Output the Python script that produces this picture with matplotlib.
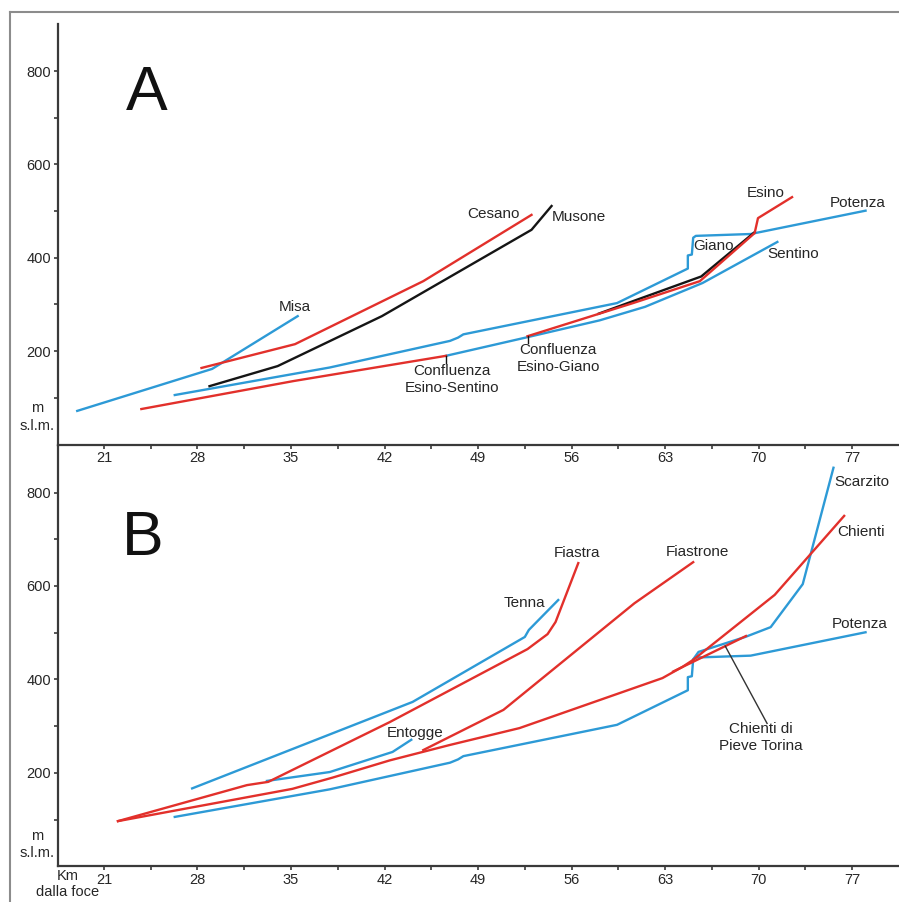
import matplotlib
matplotlib.use("Agg")
import matplotlib.pyplot as plt
import numpy as np
from matplotlib.lines import Line2D
from matplotlib.ticker import FixedLocator

plt.rcParams['font.family'] = ['Liberation Sans', 'DejaVu Sans']

BLUE = '#2d9ad6'
RED = '#e2302b'
BLACK = '#151515'
TEXT = '#262626'
AXIS = '#3a3a3a'

# longitudinal profiles: km from the river mouth, elevation in m a.s.l.
# Potenza appears in both panels
potenza_km = [26.3, 37.9, 46.9, 47.5, 47.9, 59.4, 64.7, 64.7, 65.0, 65.1, 65.3, 69.4, 78.0]
potenza_m = [106, 165, 222, 229, 236, 303, 377, 405, 407, 443, 447, 451, 501]

# panel A
misa_km = [19.0, 29.1, 35.5]
misa_m = [72, 162, 275]
cesano_km = [28.3, 35.3, 44.9, 53.0]
cesano_m = [164, 215, 350, 492]
musone_km = [28.9, 34.0, 41.8, 53.0, 54.5]
musone_m = [125, 168, 275, 460, 511]
esino_low_km = [23.8, 35.2, 46.6]
esino_low_m = [76, 136, 190]
esino_km = [52.7, 60.6, 65.6, 69.7, 69.95, 72.5]
esino_m = [232, 303, 350, 453, 485, 530]
sentino_km = [46.6, 52.7, 58.1, 61.5, 65.8, 71.4]
sentino_m = [190, 230, 266, 295, 346, 434]
giano_km = [58.0, 60.1, 65.7, 69.7]
giano_m = [280, 302, 360, 455]
confluence_km = [46.6, 52.7]
confluence_m = [190, 232]

# panel B
chienti_km = [22.05, 35.1, 38.1, 42.4, 46.9, 52.1, 62.8, 64.3, 65.1, 71.2, 76.4]
chienti_m = [97, 166, 190, 227, 260, 296, 403, 427, 442, 581, 750]
fiastra_km = [22.05, 31.7, 33.3, 42.4, 52.7, 54.2, 54.8, 56.5]
fiastra_m = [97, 174, 181, 309, 465, 497, 523, 649]
fiastrone_km = [44.9, 50.9, 60.7, 65.1]
fiastrone_m = [249, 335, 563, 651]
pieve_km = [63.6, 69.05]
pieve_m = [417, 493]
tenna_km = [27.6, 44.1, 52.5, 52.8, 55.0]
tenna_m = [167, 352, 491, 506, 570]
entogge_km = [33.2, 37.9, 42.6, 44.0]
entogge_m = [183, 202, 245, 271]
scarzito_km = [65.1, 65.5, 69.0, 70.9, 73.3, 75.6]
scarzito_m = [443, 459, 491, 512, 604, 853]

fig = plt.figure(figsize=(8.99, 9.02), dpi=100)
ax_a = fig.add_axes([0.0645, 0.5072, 0.9344, 0.4657])
ax_b = fig.add_axes([0.0645, 0.0394, 0.9344, 0.4664])


def style_axes(ax):
    ax.set_xlim(17.56, 80.43)
    ax.set_ylim(0, 900)
    ax.patch.set_visible(False)
    for side in ('top', 'right'):
        ax.spines[side].set_visible(False)
    for side in ('left', 'bottom'):
        ax.spines[side].set_color(AXIS)
        ax.spines[side].set_linewidth(1.6)
    ax.xaxis.set_major_locator(FixedLocator(np.arange(21, 78, 7)))
    ax.xaxis.set_minor_locator(FixedLocator(np.arange(24.5, 80, 7)))
    ax.yaxis.set_major_locator(FixedLocator([200, 400, 600, 800]))
    ax.yaxis.set_minor_locator(FixedLocator([100, 300, 500, 700]))
    ax.tick_params(which='both', direction='out', length=3, width=1.2,
                   color=AXIS, labelsize=10.5, labelcolor=TEXT, pad=2)


style_axes(ax_a)
style_axes(ax_b)

lw = 1.7

# --- panel A ---
ax_a.plot(potenza_km, potenza_m, color=BLUE, lw=lw)
ax_a.plot(misa_km, misa_m, color=BLUE, lw=lw)
ax_a.plot(sentino_km, sentino_m, color=BLUE, lw=lw)
ax_a.plot(giano_km, giano_m, color=BLACK, lw=lw)
ax_a.plot(esino_low_km, esino_low_m, color=RED, lw=lw)
ax_a.plot(esino_km, esino_m, color=RED, lw=lw)
ax_a.plot(cesano_km, cesano_m, color=RED, lw=lw)
ax_a.plot(musone_km, musone_m, color=BLACK, lw=lw)
for k, m in zip(confluence_km, confluence_m):
    ax_a.plot([k, k], [m, m - 15], color=BLACK, lw=1.0)

labels_a = [
    ('Misa', 35.26, 295, 'center'),
    ('Cesano', 52.14, 494, 'right'),
    ('Musone', 54.53, 488, 'left'),
    ('Esino', 69.13, 539, 'left'),
    ('Potenza', 75.34, 518, 'left'),
    ('Giano', 65.09, 425, 'left'),
    ('Sentino', 70.63, 408, 'left'),
    ('Confluenza\nEsino-Sentino', 47.05, 140, 'center'),
    ('Confluenza\nEsino-Giano', 55.0, 184, 'center'),
]
for txt, x, y, ha in labels_a:
    ax_a.text(x, y, txt, ha=ha, va='center', fontsize=11, color=TEXT,
              linespacing=1.3, multialignment='center')

# --- panel B ---
ax_b.plot(potenza_km, potenza_m, color=BLUE, lw=lw)
ax_b.plot(tenna_km, tenna_m, color=BLUE, lw=lw)
ax_b.plot(entogge_km, entogge_m, color=BLUE, lw=lw)
ax_b.plot(scarzito_km, scarzito_m, color=BLUE, lw=lw)
ax_b.plot(chienti_km, chienti_m, color=RED, lw=lw)
ax_b.plot(fiastra_km, fiastra_m, color=RED, lw=lw)
ax_b.plot(fiastrone_km, fiastrone_m, color=RED, lw=lw)
ax_b.plot(pieve_km, pieve_m, color=RED, lw=lw)

# leader line to the Pieve Torina label
lead_km = 67.5
lead_m = np.interp(lead_km, pieve_km, pieve_m)
ax_b.plot([lead_km, 70.63], [lead_m, 306], color='#333333', lw=1.0)

labels_b = [
    ('Entogge', 42.18, 286, 'left'),
    ('Tenna', 50.89, 563, 'left'),
    ('Fiastra', 54.68, 670, 'left'),
    ('Fiastrone', 63.07, 673, 'left'),
    ('Scarzito', 75.66, 822, 'left'),
    ('Chienti', 75.89, 716, 'left'),
    ('Potenza', 75.47, 518, 'left'),
    ('Chienti di\nPieve Torina', 70.18, 276, 'center'),
]
for txt, x, y, ha in labels_b:
    ax_b.text(x, y, txt, ha=ha, va='center', fontsize=11, color=TEXT,
              linespacing=1.3, multialignment='center')

# panel letters and axis captions
fig.text(0.1635, 1 - 110 / 902, 'A', fontsize=45, ha='center', va='baseline', color='#111111')
fig.text(0.1585, 1 - 555 / 902, 'B', fontsize=45, ha='center', va='baseline', color='#111111')
for yc in (1 - 417 / 902, 1 - 844.5 / 902):
    fig.text(37 / 899, yc, 'm\ns.l.m.', fontsize=10.5, ha='center', va='center',
             color=TEXT, linespacing=1.35)
fig.text(57 / 899, 1 - 876 / 902, 'Km', fontsize=10.5, ha='left', va='center', color=TEXT)
fig.text(67.5 / 899, 1 - 892 / 902, 'dalla foce', fontsize=10.5, ha='center', va='center', color=TEXT)

# outer frame
fx, fy = 10 / 899, 1 - 12 / 902
fig.add_artist(Line2D([fx, fx], [0, fy], transform=fig.transFigure, color='#8c8c8c', lw=1.5))
fig.add_artist(Line2D([fx, 1], [fy, fy], transform=fig.transFigure, color='#8c8c8c', lw=1.5))

fig.savefig('out.png', dpi=100)
